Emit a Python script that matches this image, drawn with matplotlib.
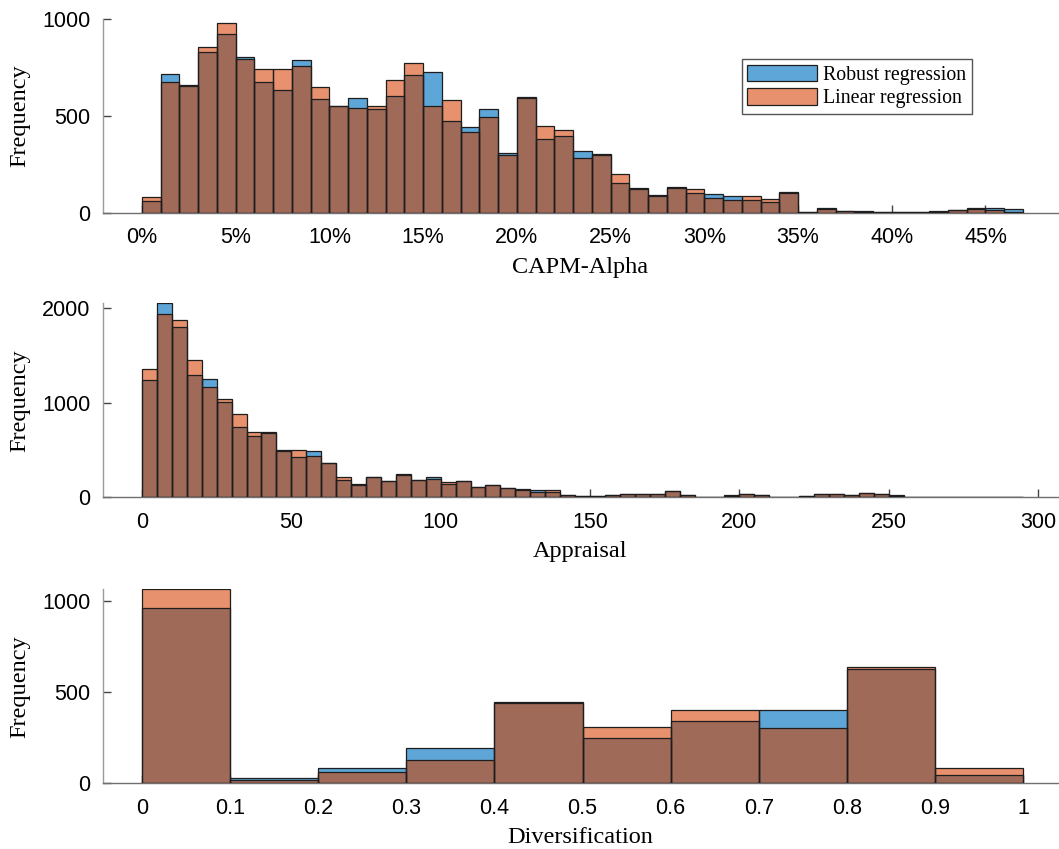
import numpy as np
import matplotlib
matplotlib.use("Agg")
import matplotlib.pyplot as plt
from matplotlib.patches import Patch
from matplotlib.ticker import FuncFormatter, FixedLocator

# ---------------- data ----------------
alpha_bin_width = 0.01
alpha_robust = [62, 714, 660, 829, 920, 805, 673, 633, 788, 587, 552, 592, 535, 604, 712,
                725, 472, 442, 535, 308, 598, 379, 396, 320, 302, 155, 126, 91, 131, 103,
                96, 85, 67, 57, 100, 4, 18, 8, 7, 6, 6, 5, 8, 16, 18, 24, 19]
alpha_linear = [79, 673, 652, 857, 977, 791, 740, 740, 759, 649, 550, 540, 552, 685, 771,
                552, 582, 415, 494, 298, 593, 448, 425, 281, 299, 200, 122, 88, 127, 121,
                78, 67, 85, 72, 108, 6, 22, 8, 6, 5, 6, 5, 6, 14, 24, 12, 4]

appr_bin_width = 5
appr_robust = [1237, 2050, 1800, 1293, 1247, 1007, 743, 648, 687, 497, 423, 489, 363, 183, 137,
               218, 172, 243, 183, 218, 140, 176, 112, 127, 102, 84, 77, 53, 28, 17,
               14, 26, 38, 38, 30, 66, 22, 6, 6, 18, 34, 21, 4, 4, 17,
               32, 32, 24, 45, 33, 21, 3, 3, 2, 2, 2, 2, 2, 2]
appr_linear = [1353, 1934, 1871, 1448, 1170, 1036, 884, 687, 683, 493, 497, 433, 360, 211, 135,
               215, 170, 238, 180, 190, 165, 174, 108, 125, 98, 80, 55, 77, 22, 15,
               10, 28, 40, 40, 30, 70, 20, 6, 6, 20, 34, 20, 4, 4, 14,
               30, 30, 22, 47, 31, 18, 3, 3, 2, 2, 2, 2, 2, 2]

div_bin_width = 0.1
div_robust = [958, 31, 84, 195, 443, 248, 339, 401, 624, 45]
div_linear = [1062, 16, 60, 126, 440, 310, 401, 305, 639, 84]

alpha_ticks = [0, 0.05, 0.10, 0.15, 0.20, 0.25, 0.30, 0.35, 0.40, 0.45]
appr_ticks = [0, 50, 100, 150, 200, 250, 300]
div_ticks = [0, 0.1, 0.2, 0.3, 0.4, 0.5, 0.6, 0.7, 0.8, 0.9, 1.0]

series_names = ["Robust regression", "Linear regression"]

# ---------------- style ----------------
BLUE = "#5FA6D8"
ORANGE = "#E8916F"
BROWN = "#A06A59"
EDGE = "#1E1E1E"

W, H = 1059, 849
fig = plt.figure(figsize=(W / 100, H / 100), dpi=100)

TICK_FONT = dict(family="Liberation Sans", size=15.5)
LABEL_FONT = dict(family="Liberation Serif", size=17.5)

L = 103 / W
AW = 955 / W


def make_axes(bottom_px, height_px):
    return fig.add_axes([L, 1 - bottom_px / H, AW, height_px / H])


def draw(ax, width, robust, linear):
    robust = np.asarray(robust, float)
    linear = np.asarray(linear, float)
    x = np.arange(len(robust)) * width
    both = np.minimum(robust, linear)
    ax.bar(x, robust, width, align="edge", color=BLUE, edgecolor="none", zorder=2)
    ax.bar(x, linear, width, align="edge", color=ORANGE, edgecolor="none", zorder=2)
    ax.bar(x, both, width, align="edge", color=BROWN, edgecolor="none", zorder=3)
    ax.bar(x, robust, width, align="edge", facecolor="none", edgecolor=EDGE,
           linewidth=0.9, zorder=4)
    ax.bar(x, linear, width, align="edge", facecolor="none", edgecolor=EDGE,
           linewidth=0.9, zorder=4)


def style(ax, xlabel, yticks, height_px):
    for s in ("top", "right"):
        ax.spines[s].set_visible(False)
    ax.spines["left"].set_color("#9A9A9A")
    ax.spines["bottom"].set_color("#707070")
    ax.spines["left"].set_linewidth(1.0)
    ax.spines["bottom"].set_linewidth(1.0)
    ax.tick_params(direction="in", length=5.5, width=1.0, color="#444444",
                   labelsize=TICK_FONT["size"])
    ax.tick_params(axis="x", pad=10.5)
    ax.tick_params(axis="y", pad=9)
    ax.yaxis.set_major_locator(FixedLocator(yticks))
    ax.set_xlabel(xlabel, **LABEL_FONT)
    ax.xaxis.label.set_va("baseline")
    ax.xaxis.set_label_coords(0.5, -60 / height_px)
    ax.set_ylabel("Frequency", **LABEL_FONT)
    ax.yaxis.set_label_coords(-73 / 955, 0.5)
    for lab in ax.get_xticklabels() + ax.get_yticklabels():
        lab.set_family(TICK_FONT["family"])


# ---- top: CAPM-Alpha ----
ax1 = make_axes(212.7, 193.7)
draw(ax1, alpha_bin_width, alpha_robust, alpha_linear)
ax1.set_xlim(-0.0208, 0.4887)
ax1.set_ylim(0, 1000)
ax1.xaxis.set_major_locator(FixedLocator(alpha_ticks))
ax1.xaxis.set_major_formatter(FuncFormatter(lambda v, p: f"{int(round(v * 100))}%"))
style(ax1, "CAPM-Alpha", [0, 500, 1000], 193.7)

leg = ax1.legend(handles=[Patch(facecolor=BLUE, edgecolor=EDGE, linewidth=0.9),
                          Patch(facecolor=ORANGE, edgecolor=EDGE, linewidth=0.9)],
                 labels=series_names, loc="upper right",
                 bbox_to_anchor=(0.910, 0.7935), borderaxespad=0,
                 prop=dict(family="Liberation Serif", size=14.3),
                 handlelength=3.5, handleheight=0.9, handletextpad=0.3,
                 labelspacing=0.15, borderpad=0.3, fancybox=False, framealpha=1)
leg.get_frame().set_edgecolor("#555555")
leg.get_frame().set_linewidth(1.0)

# ---- middle: Appraisal ----
ax2 = make_axes(497.3, 193.9)
draw(ax2, appr_bin_width, appr_robust, appr_linear)
ax2.set_xlim(-13.06, 306.7)
ax2.set_ylim(0, 2050)
ax2.xaxis.set_major_locator(FixedLocator(appr_ticks))
style(ax2, "Appraisal", [0, 1000, 2000], 193.9)

# ---- bottom: Diversification ----
ax3 = make_axes(783.3, 193.9)
draw(ax3, div_bin_width, div_robust, div_linear)
ax3.set_xlim(-0.0443, 1.0397)
ax3.set_ylim(0, 1062)
ax3.xaxis.set_major_locator(FixedLocator(div_ticks))
ax3.xaxis.set_major_formatter(FuncFormatter(lambda v, p: f"{v:g}"))
style(ax3, "Diversification", [0, 500, 1000], 193.9)

for ax in (ax1, ax2, ax3):
    for lab in ax.get_xticklabels() + ax.get_yticklabels():
        lab.set_family(TICK_FONT["family"])

fig.savefig("out.png", dpi=100)
